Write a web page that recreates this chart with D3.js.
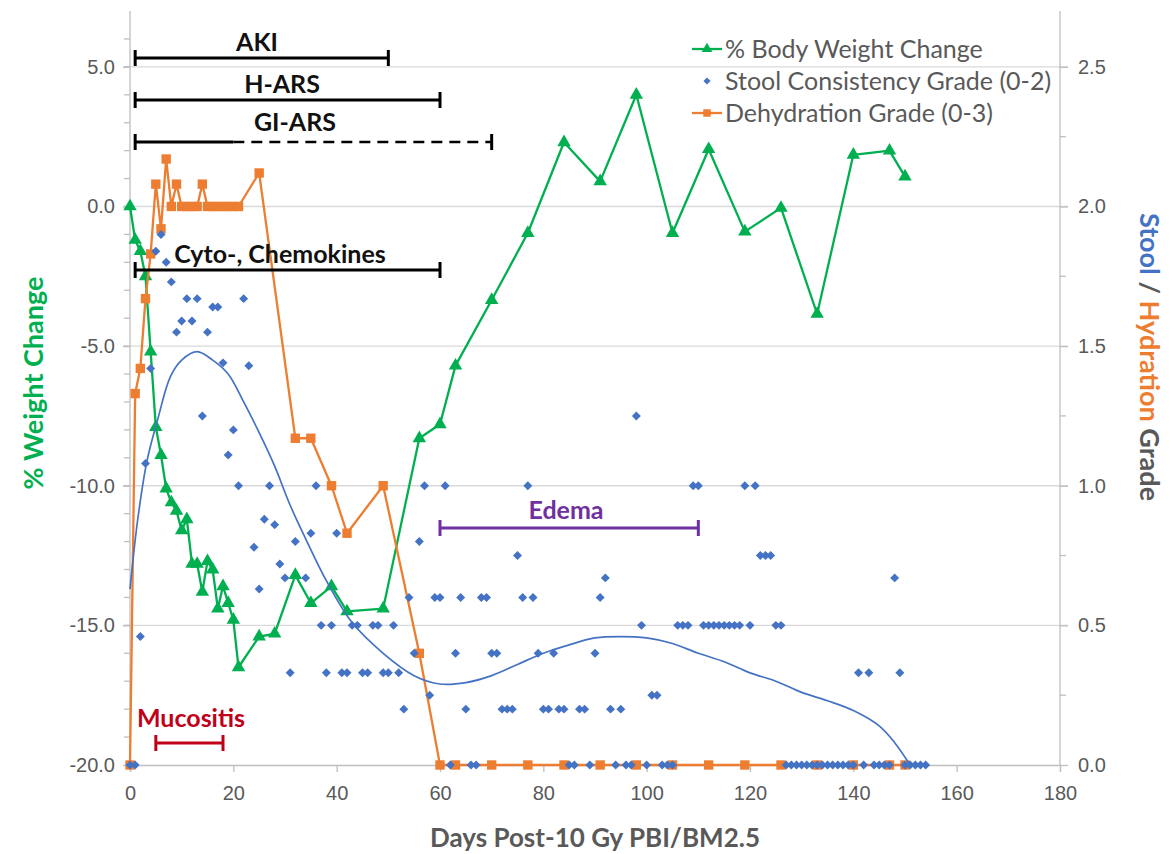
<!DOCTYPE html>
<html>
<head>
<meta charset="utf-8">
<script src="https://cdn.jsdelivr.net/npm/d3@7"></script>
<style>
  html, body { margin: 0; padding: 0; background: #fff; }
  svg { display: block; font-family: Lato, "Open Sans", sans-serif; }
</style>
</head>
<body>
<svg id="chart" width="1174" height="854"></svg>
<script>
// ---- % body weight change (left axis) ----
const weightDays = [0, 1, 2, 3, 4, 5, 6, 7, 8, 9, 10, 11, 12, 13, 14, 15, 16, 17, 18, 19, 20, 21,
  25, 28, 32, 35, 39, 42, 49, 56, 60, 63, 70, 77, 84, 91, 98, 105, 112, 119, 126, 133, 140, 147, 150];
const weightPct = [0, -1.2, -1.6, -2.5, -5.2, -7.9, -8.9, -10.1, -10.6, -10.9, -11.6, -11.2, -12.8, -12.8,
  -13.8, -12.7, -13.0, -14.4, -13.6, -14.2, -14.8, -16.5,
  -15.4, -15.3, -13.2, -14.2, -13.6, -14.5, -14.4, -8.3, -7.8, -5.7, -3.35, -0.95, 2.3, 0.9, 4.0,
  -0.95, 2.05, -0.9, -0.05, -3.85, 1.85, 2.0, 1.07];

// ---- dehydration grade (right axis) ----
const hydDays = [0, 1, 2, 3, 4, 5, 6, 7, 8, 9, 10, 11, 12, 13, 14, 15, 16, 17, 18, 19, 20, 21,
  25, 32, 35, 39, 42, 49, 56, 60, 63, 70, 77, 84, 91, 98, 105, 112, 119, 126, 133, 140, 147, 150];
const hydGrade = [0, 1.33, 1.42, 1.67, 1.83, 2.08, 1.92, 2.17, 2.0, 2.08, 2.0, 2.0, 2.0, 2.0, 2.08, 2.0,
  2.0, 2.0, 2.0, 2.0, 2.0, 2.0,
  2.12, 1.17, 1.17, 1.0, 0.83, 1.0, 0.4, 0, 0, 0, 0, 0, 0, 0, 0, 0, 0, 0, 0, 0, 0, 0];

// ---- stool consistency grade (right axis) ----
const stoolDays = [0, 1, 2, 3, 4, 5, 6, 7, 8, 9, 10, 11, 12, 13, 14, 15, 16, 17, 18, 19, 20, 21, 22, 23,
  24, 25, 26, 27, 28, 29, 30, 31, 32, 34, 35, 36, 37, 38, 39, 40, 41, 42, 43, 44, 45, 46, 47, 48, 49, 50,
  51, 52, 53, 54, 55, 56, 57, 58, 59, 60, 61, 62, 63, 64, 65, 66, 67, 68, 69, 70, 71, 72, 73, 74, 75, 76,
  77, 78, 79, 80, 81, 82, 83, 84, 85, 86, 87, 88, 89, 90, 91, 92, 93, 94, 95, 96, 97, 98, 99, 100, 101,
  102, 103, 104, 105, 106, 107, 108, 109, 110, 111, 112, 113, 114, 115, 116, 117, 118, 119, 120, 121,
  122, 123, 124, 125, 126, 127, 128, 129, 130, 131, 132, 133, 134, 135, 136, 137, 138, 139, 140, 141,
  142, 143, 144, 145, 146, 147, 148, 149, 150, 151, 152, 153, 154];
const stoolGrade = [0, 0, 0.46, 1.08, 1.42, 1.84, 1.90, 1.80, 1.73, 1.55, 1.59, 1.67, 1.59, 1.67, 1.25,
  1.55, 1.64, 1.64, 1.44, 1.11, 1.20, 1.0, 1.67, 1.43,
  0.78, 0.63, 0.88, 1.0, 0.86, 0.72, 0.67, 0.33, 0.8, 0.67, 0.83, 1.0, 0.5, 0.33, 0.5, 0.83, 0.33, 0.33,
  0.5, 0.5, 0.33, 0.33, 0.5, 0.5, 0.33, 0.33,
  0.5, 0.33, 0.2, 0.6, 0.4, 0.8, 1.0, 0.25, 0.6, 0.6, 1.0, 0, 0.4, 0.6, 0.2, 0, 0, 0.6, 0.6, 0.4, 0.4,
  0.2, 0.2, 0.2, 0.75, 0.6,
  1.0, 0.6, 0.4, 0.2, 0.2, 0.4, 0.2, 0.2, 0, 0, 0.2, 0.2, 0, 0.4, 0.6, 0.67, 0.2, 0, 0.2, 0, 0, 1.25,
  0.5, 0, 0.25,
  0.25, 0, 0, 0, 0.5, 0.5, 0.5, 1.0, 1.0, 0.5, 0.5, 0.5, 0.5, 0.5, 0.5, 0.5, 0.5, 1.0, 0.5, 1.0,
  0.75, 0.75, 0.75, 0.5, 0.5, 0, 0, 0, 0, 0, 0, 0, 0, 0, 0, 0, 0, 0, 0, 0.33,
  0, 0.33, 0, 0, 0, 0, 0.67, 0.33, 0, 0, 0, 0, 0];

// ---- polynomial trend of stool grade ----
const trendDays = [0, 1.5, 3.3, 5.4, 7.8, 10, 13, 16, 19, 22, 25, 28, 31, 34, 38, 43, 49, 55, 60, 65, 70,
  75, 80, 85, 90, 95, 100, 105, 110, 115, 120, 125, 130, 135, 140, 145, 148, 151];
const trendGrade = [0.63, 0.88, 1.09, 1.24, 1.39, 1.45, 1.48, 1.45, 1.40, 1.30, 1.19, 1.07, 0.93, 0.81,
  0.66, 0.51, 0.40, 0.32, 0.29, 0.295, 0.32, 0.36, 0.40, 0.43, 0.455, 0.46, 0.455, 0.435, 0.40, 0.37,
  0.33, 0.30, 0.26, 0.23, 0.195, 0.14, 0.08, 0.0];

// ---- axis ticks ----
const xTicks = [0, 20, 40, 60, 80, 100, 120, 140, 160, 180];
const leftTicks = [-20, -15, -10, -5, 0, 5];
const rightTicks = [0, 0.5, 1.0, 1.5, 2.0, 2.5];

// ---- phase annotations: label, start day, end day, dashed-from day ----
const phaseNames = ["AKI", "H-ARS", "GI-ARS", "Cyto-, Chemokines"];
const phaseStart = [1, 1, 1, 1];
const phaseEnd = [50, 60, 70, 60];
const phaseDashFrom = [null, null, 20, null];
const edemaRange = [60, 110];
const mucositisRange = [5, 18];

// ---- colours ----
const GREEN = "#00b050", BLUE = "#4472c4", ORANGE = "#ed7d31";
const GRID = "#d9d9d9", AXIS = "#bfbfbf", TEXT = "#595959";

const svg = d3.select("#chart");
const x = d3.scaleLinear().domain([0, 180]).range([130, 1060]);
const yL = d3.scaleLinear().domain([-20, 7]).range([765, 11]);
const yR = d3.scaleLinear().domain([0, 2.7]).range([765, 11]);
const X0 = x(0), X1 = x(180), Y0 = yR(0), Y1 = yR(2.7);

// gridlines (also act as the major ticks on both vertical axes)
svg.append("g").selectAll("line").data(rightTicks.filter(d => d > 0)).join("line")
  .attr("x1", X0 - 7).attr("x2", X1 + 8)
  .attr("y1", d => yR(d)).attr("y2", d => yR(d))
  .attr("stroke", GRID).attr("stroke-width", 1.3);

// left axis
const leftAxis = svg.append("g").attr("transform", `translate(${X0},0)`)
  .call(d3.axisLeft(yL).tickValues(leftTicks).tickFormat(d => d.toFixed(1)).tickSize(7).tickPadding(8));
leftAxis.select(".domain").remove();
leftAxis.selectAll(".tick line").attr("stroke", AXIS).attr("stroke-width", 1.3);
leftAxis.selectAll(".tick text").attr("fill", TEXT).style("font-size", "20px");
svg.append("g").selectAll("line").data(d3.range(-19, 7)).join("line")
  .attr("x1", X0 - 6).attr("x2", X0).attr("y1", d => yL(d)).attr("y2", d => yL(d))
  .attr("stroke", AXIS).attr("stroke-width", 1.3);
svg.append("line").attr("x1", X0).attr("x2", X0).attr("y1", Y1).attr("y2", Y0)
  .attr("stroke", AXIS).attr("stroke-width", 1.3);

// right axis
const rightAxis = svg.append("g").attr("transform", `translate(${X1},0)`)
  .call(d3.axisRight(yR).tickValues(rightTicks).tickFormat(d => d.toFixed(1)).tickSize(8).tickPadding(10));
rightAxis.select(".domain").remove();
rightAxis.selectAll(".tick line").attr("stroke", AXIS).attr("stroke-width", 1.3);
rightAxis.selectAll(".tick text").attr("fill", TEXT).style("font-size", "20px");
svg.append("g").selectAll("line").data(d3.range(0.25, 2.7, 0.5)).join("line")
  .attr("x1", X1).attr("x2", X1 + 6).attr("y1", d => yR(d)).attr("y2", d => yR(d))
  .attr("stroke", AXIS).attr("stroke-width", 1.3);
svg.append("line").attr("x1", X1).attr("x2", X1).attr("y1", Y1).attr("y2", Y0)
  .attr("stroke", AXIS).attr("stroke-width", 1.3);

// bottom axis
const bottomAxis = svg.append("g").attr("transform", `translate(0,${Y0})`)
  .call(d3.axisBottom(x).tickValues(xTicks).tickFormat(d3.format("d")).tickSize(7).tickPadding(14));
bottomAxis.select(".domain").attr("stroke", AXIS).attr("stroke-width", 1.3);
bottomAxis.selectAll(".tick line").attr("stroke", AXIS).attr("stroke-width", 1.3);
bottomAxis.selectAll(".tick text").attr("fill", TEXT).style("font-size", "20px");

// axis titles
svg.append("text").attr("x", x(90)).attr("y", 847).attr("text-anchor", "middle")
  .attr("fill", TEXT).style("font-size", "26px").style("font-weight", 700)
  .text("Days Post-10 Gy PBI/BM2.5");
svg.append("text").attr("transform", "translate(43,383) rotate(-90)").attr("text-anchor", "middle")
  .attr("fill", GREEN).style("font-size", "27px").style("font-weight", 700)
  .text("% Weight Change");
const rt = svg.append("text").attr("transform", "translate(1140,357) rotate(90)")
  .attr("text-anchor", "middle").style("font-size", "27px").style("font-weight", 700);
rt.append("tspan").attr("fill", BLUE).text("Stool");
rt.append("tspan").attr("fill", TEXT).text(" / ");
rt.append("tspan").attr("fill", ORANGE).text("Hydration");
rt.append("tspan").attr("fill", TEXT).text(" Grade");

// marker shapes
const diamond = { draw(ctx, size) { const r = Math.sqrt(size / 2);
  ctx.moveTo(0, -r); ctx.lineTo(r, 0); ctx.lineTo(0, r); ctx.lineTo(-r, 0); ctx.closePath(); } };
const triPath = d3.symbol(d3.symbolTriangle, 78)();
const sqPath = d3.symbol(d3.symbolSquare, 88)();
const diaPath = d3.symbol(diamond, 40)();

const plot = svg.append("g");

// weight change series
const weight = weightDays.map((d, i) => [d, weightPct[i]]);
plot.append("path").datum(weight)
  .attr("d", d3.line().x(d => x(d[0])).y(d => yL(d[1])))
  .attr("fill", "none").attr("stroke", GREEN).attr("stroke-width", 2.3).attr("stroke-linejoin", "round");
plot.append("g").selectAll("path").data(weight).join("path")
  .attr("d", triPath).attr("transform", d => `translate(${x(d[0])},${yL(d[1])})`).attr("fill", GREEN);

// dehydration series
const hyd = hydDays.map((d, i) => [d, hydGrade[i]]);
plot.append("path").datum(hyd)
  .attr("d", d3.line().x(d => x(d[0])).y(d => yR(d[1])))
  .attr("fill", "none").attr("stroke", ORANGE).attr("stroke-width", 2.3).attr("stroke-linejoin", "round");
plot.append("g").selectAll("path").data(hyd).join("path")
  .attr("d", sqPath).attr("transform", d => `translate(${x(d[0])},${yR(d[1])})`).attr("fill", ORANGE);

// stool scatter
const stool = stoolDays.map((d, i) => [d, stoolGrade[i]]);
plot.append("g").selectAll("path").data(stool).join("path")
  .attr("d", diaPath).attr("transform", d => `translate(${x(d[0])},${yR(d[1])})`).attr("fill", BLUE);

// stool trend
const trend = trendDays.map((d, i) => [d, trendGrade[i]]);
plot.append("path").datum(trend)
  .attr("d", d3.line().curve(d3.curveCatmullRom.alpha(0.5)).x(d => x(d[0])).y(d => yR(d[1])))
  .attr("fill", "none").attr("stroke", BLUE).attr("stroke-width", 1.7);

// range bars with end caps
function rangeBar(g, d0, d1, y, color, dashFrom) {
  const xa = x(d0), xb = x(d1);
  if (dashFrom == null) {
    g.append("line").attr("x1", xa).attr("x2", xb).attr("y1", y).attr("y2", y)
      .attr("stroke", color).attr("stroke-width", 3.2);
  } else {
    g.append("line").attr("x1", xa).attr("x2", x(dashFrom)).attr("y1", y).attr("y2", y)
      .attr("stroke", color).attr("stroke-width", 3.2);
    g.append("line").attr("x1", x(dashFrom)).attr("x2", xb).attr("y1", y).attr("y2", y)
      .attr("stroke", color).attr("stroke-width", 2.6).attr("stroke-dasharray", "11,7");
  }
  [xa, xb].forEach(xx => g.append("line").attr("x1", xx).attr("x2", xx)
    .attr("y1", y - 8).attr("y2", y + 8).attr("stroke", color).attr("stroke-width", 3));
}

const notes = svg.append("g");
const barY = [58, 100, 142, 270];
const labelX = [257, 282, 295, 280];
const labelY = [51, 93, 131, 263];
phaseNames.forEach((name, i) => {
  rangeBar(notes, phaseStart[i], phaseEnd[i], barY[i], "#000", phaseDashFrom[i]);
  notes.append("text").attr("x", labelX[i]).attr("y", labelY[i]).attr("text-anchor", "middle")
    .attr("fill", "#111").style("font-size", "25px").style("font-weight", 700).text(name);
});

// Edema
rangeBar(notes, edemaRange[0], edemaRange[1], 528, "#7030a0", null);
notes.append("text").attr("x", 566).attr("y", 519).attr("text-anchor", "middle")
  .attr("fill", "#7030a0").style("font-size", "25px").style("font-weight", 700).text("Edema");

// Mucositis
rangeBar(notes, mucositisRange[0], mucositisRange[1], 743, "#c00018", null);
notes.append("text").attr("x", 191).attr("y", 727).attr("text-anchor", "middle")
  .attr("fill", "#c00018").style("font-size", "25px").style("font-weight", 700).text("Mucositis");

// legend
const legend = svg.append("g").style("font-size", "25px").attr("fill", TEXT);
const legendItems = [
  { label: "% Body Weight Change", color: GREEN, line: true, mark: triPath },
  { label: "Stool Consistency Grade (0-2)", color: BLUE, line: false, mark: diaPath },
  { label: "Dehydration Grade (0-3)", color: ORANGE, line: true, mark: sqPath }
];
legendItems.forEach((it, i) => {
  const y = 49 + i * 32;
  if (it.line) legend.append("line").attr("x1", 692).attr("x2", 722).attr("y1", y).attr("y2", y)
    .attr("stroke", it.color).attr("stroke-width", 2.3);
  legend.append("path").attr("d", it.mark).attr("transform", `translate(707,${y}) scale(0.8)`)
    .attr("fill", it.color);
  legend.append("text").attr("x", 725).attr("y", y + 9).text(it.label);
});
</script>
</body>
</html>
